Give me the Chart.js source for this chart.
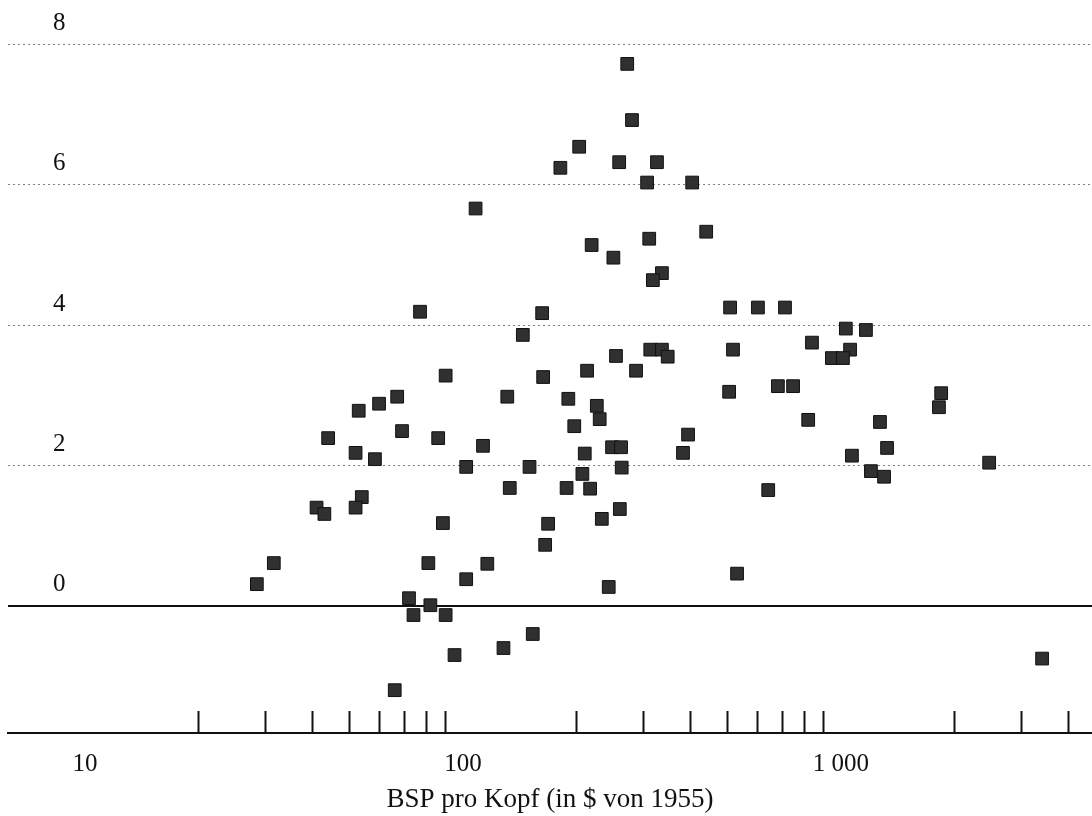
<!DOCTYPE html>
<html>
<head>
<meta charset="utf-8">
<title>BSP pro Kopf</title>
<script src="https://cdn.jsdelivr.net/npm/chart.js@4.4.0/dist/chart.umd.min.js"></script>
<style>
    html, body { margin: 0; padding: 0; background: #fff; overflow: hidden; }
    canvas { display: block; }
</style>
</head>
<body>
<canvas id="grafico" width="1092" height="816"></canvas>
<script>
const bspProKopf = [
    272, 280, 203, 259, 326, 181, 307, 404, 108, 440,
    311, 219, 250, 336, 318, 77, 162, 509, 603, 711,
    144, 1030, 1164, 313, 336, 348, 518, 838, 1057, 946,
    1012, 254, 213, 287, 163, 90, 506, 681, 747, 1841,
    1816, 131, 190, 226, 230, 197, 819, 1268, 394, 382,
    1324, 1069, 1200, 1300, 2466, 642, 531, 248, 262, 210,
    150, 263, 207, 188, 217, 133, 260, 233, 168, 165,
    243, 67, 60, 53, 69, 44, 86, 113, 52, 58.5,
    102, 54, 52, 41, 43, 88.5, 31.6, 28.5, 81, 116,
    102, 72, 82, 74, 90, 153, 128, 95, 3404, 66
];
const wachstum = [
    7.72, 6.92, 6.54, 6.32, 6.32, 6.24, 6.03, 6.03, 5.66, 5.33,
    5.23, 5.14, 4.96, 4.74, 4.64, 4.19, 4.17, 4.25, 4.25, 4.25,
    3.86, 3.95, 3.93, 3.65, 3.65, 3.55, 3.65, 3.75, 3.65, 3.53,
    3.53, 3.56, 3.35, 3.35, 3.26, 3.28, 3.05, 3.13, 3.13, 3.03,
    2.83, 2.98, 2.95, 2.85, 2.66, 2.56, 2.65, 2.62, 2.44, 2.18,
    2.25, 2.14, 1.92, 1.84, 2.04, 1.65, 0.46, 2.26, 2.26, 2.17,
    1.98, 1.97, 1.88, 1.68, 1.67, 1.68, 1.38, 1.24, 1.17, 0.87,
    0.27, 2.98, 2.88, 2.78, 2.49, 2.39, 2.39, 2.28, 2.18, 2.09,
    1.98, 1.55, 1.40, 1.40, 1.31, 1.18, 0.61, 0.31, 0.61, 0.60,
    0.38, 0.11, 0.01, -0.13, -0.13, -0.40, -0.60, -0.70, -0.75, -1.20
];

const yTicks = [0, 2, 4, 6, 8];
const nullLinie = [0];
const xTicks = [10, 20, 30, 40, 50, 60, 70, 80, 90,
                100, 200, 300, 400, 500, 600, 700, 800, 900,
                1000, 2000, 3000, 4000];
const xBeschriftet = [10, 100, 1000];
const xBeschriftungen = ['10', '100', '1 000'];
const xTitel = 'BSP pro Kopf (in $ von 1955)';

const schrift = "'Liberation Serif', 'DejaVu Serif', serif";

const punkte = bspProKopf.map((x, i) => ({ x: x, y: wachstum[i] }));

// Achsen sollen keinen Extra-Rand für Beschriftungen reservieren
function ohneRand(s) {
    s.paddingTop = 0;
    s.paddingBottom = 0;
    s.paddingLeft = 0;
    s.paddingRight = 0;
}

const ctx = document.getElementById('grafico').getContext('2d');

new Chart(ctx, {
    type: 'scatter',
    data: {
        datasets: [{
            data: punkte,
            pointStyle: 'rect',
            pointRadius: 9,
            pointHoverRadius: 9,
            backgroundColor: '#303030',
            borderColor: '#111',
            borderWidth: 1
        }]
    },
    options: {
        responsive: false,
        animation: false,
        devicePixelRatio: 1,
        layout: {
            autoPadding: false,
            padding: { left: 8, right: 0, top: 0, bottom: 0 }
        },
        plugins: {
            legend: { display: false },
            tooltip: { enabled: false }
        },
        scales: {
            x: {
                type: 'logarithmic',
                position: 'bottom',
                min: 6.26,
                max: 4613,
                afterBuildTicks: (s) => { s.ticks = xTicks.map(v => ({ value: v })); },
                afterFit: (s) => { s.height = 83; ohneRand(s); },
                ticks: {
                    autoSkip: false,
                    maxRotation: 0,
                    padding: 38,
                    color: '#111',
                    font: { family: schrift, size: 25 },
                    callback: (v) => {
                        const i = xBeschriftet.indexOf(v);
                        return i >= 0 ? xBeschriftungen[i] : '';
                    }
                },
                grid: {
                    drawOnChartArea: false,
                    drawTicks: true,
                    tickLength: -22,
                    tickWidth: 2,
                    tickColor: (c) => xBeschriftet.includes(c.tick && c.tick.value) ? 'rgba(0,0,0,0)' : '#111'
                },
                border: { display: true, color: '#111', width: 2 },
                title: {
                    display: true,
                    text: xTitel,
                    color: '#111',
                    font: { family: schrift, size: 27 },
                    padding: { top: 0, bottom: 0 }
                }
            },
            y: {
                type: 'linear',
                position: 'left',
                min: -1.81,
                max: 8.63,
                afterBuildTicks: (s) => { s.ticks = yTicks.map(v => ({ value: v })); },
                afterFit: (s) => { s.width = 0; ohneRand(s); },
                ticks: {
                    mirror: true,
                    padding: 45,
                    labelOffset: -21,
                    color: '#111',
                    font: { family: schrift, size: 25 }
                },
                grid: {
                    color: 'rgba(0,0,0,0.5)',
                    lineWidth: 1,
                    drawTicks: false
                },
                border: { display: false, dash: [2, 3] }
            },
            yNull: {
                type: 'linear',
                position: 'left',
                min: -1.81,
                max: 8.63,
                afterBuildTicks: (s) => { s.ticks = nullLinie.map(v => ({ value: v })); },
                afterFit: (s) => { s.width = 0; ohneRand(s); },
                ticks: { display: false },
                grid: { color: '#111', lineWidth: 2, drawTicks: false },
                border: { display: false }
            }
        }
    }
});
</script>
</body>
</html>
